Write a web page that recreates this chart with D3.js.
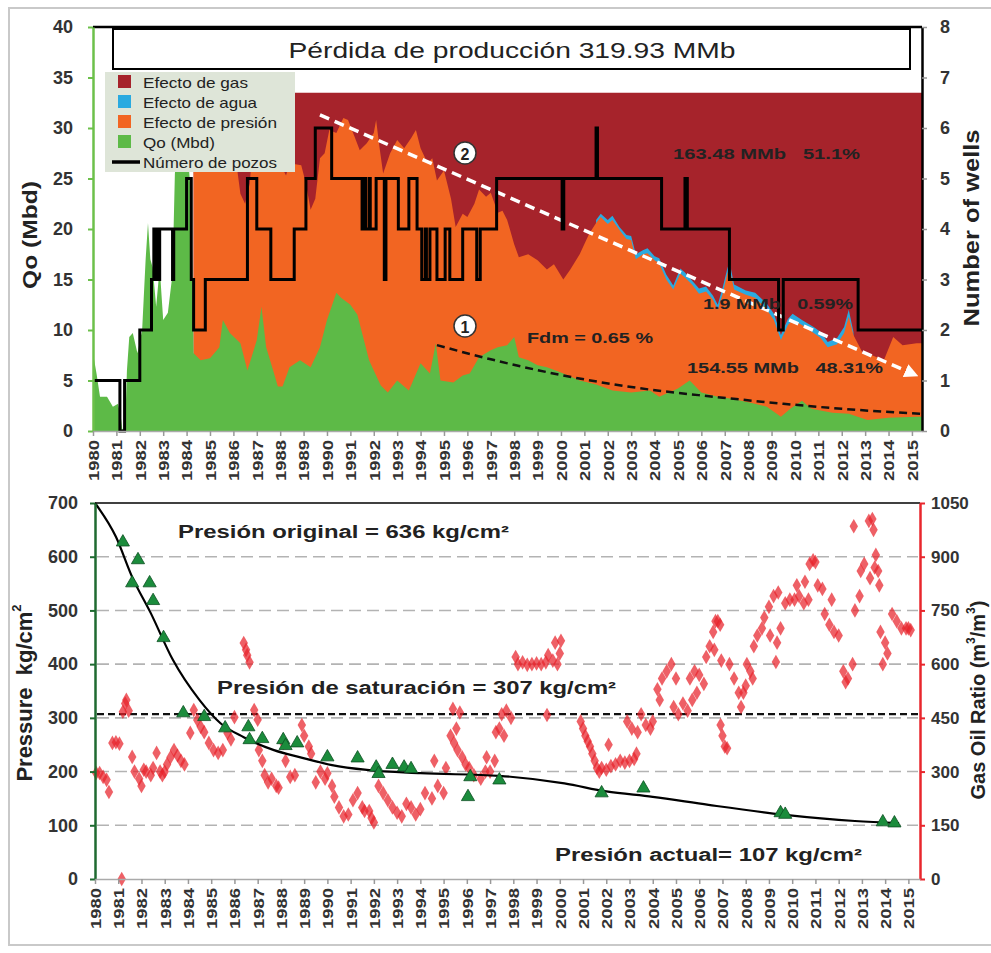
<!DOCTYPE html>
<html>
<head>
<meta charset="utf-8">
<script src="https://cdn.jsdelivr.net/npm/d3@7"></script>
<style>
  body { margin: 0; background: #fff; }
  svg { display: block; font-family: "Liberation Sans", Arial, sans-serif; }
  text { white-space: pre; }
</style>
</head>
<body>
<svg id="chart"></svg>
<script>
// ---------- data ----------
const years = d3.range(1980, 2016);

// Qo (Mbd), green area
const qoYears = [1980.0,1980.15,1980.3,1980.6,1980.85,1981.07,1981.2,1981.25,1981.37,1981.45,1981.55,1981.7,1981.9,1982.1,1982.25,1982.35,1982.45,1982.55,1982.7,1982.85,1983.0,1983.2,1983.4,1983.5,1983.6,1983.9,1984.1,1984.2,1984.3,1984.6,1985.0,1985.4,1985.55,1985.85,1986.3,1986.6,1987.0,1987.2,1987.4,1987.7,1987.9,1988.1,1988.4,1988.85,1989.3,1989.7,1990.0,1990.4,1990.6,1991.0,1991.3,1991.5,1991.8,1992.0,1992.3,1992.6,1993.0,1993.5,1994.0,1994.4,1994.65,1994.85,1995.4,1995.8,1996.1,1996.5,1997.0,1997.3,1997.7,1998.0,1998.2,1998.6,1999.0,1999.4,2000.0,2000.8,2001.5,2002.2,2003.0,2003.8,2004.2,2005.0,2005.5,2006.0,2006.7,2007.3,2008.1,2008.8,2009.4,2009.8,2010.3,2010.7,2011.6,2012.3,2013.1,2014.0,2015.2,2015.43];
const qoValues = [7.7,5.7,3.4,3.4,2.4,2.7,1.2,0.2,0,6,9.3,9.7,7.7,10,17,20.6,17,16.2,12.3,16.2,11,11.7,15.6,25.5,28,28,26,22.9,7.7,7,7.2,8.3,11,9.7,8.7,6,9,12.3,8.3,6,4.4,4.4,6.3,7,6.3,8.3,11,13.7,13.2,12.5,11.5,9.7,7,6,4.5,3.8,5,4,6.7,5.7,8.7,5,4.8,5.5,5.7,7.3,8,8.3,8.5,9.3,7.3,7,6.5,6.3,5.8,5,4.6,4,3.8,4,3.4,4.2,5,3.8,3.4,3.2,2.8,2.4,1.4,2.2,3,2.2,1.8,1.7,1.1,1.3,1.4,1.4];

// Qo + efecto de presión (top of the orange area)
const presionYears = [1984.3,1985.0,1985.8,1986.1,1986.3,1986.5,1986.7,1986.8,1987.3,1987.8,1988.1,1988.25,1988.4,1988.9,1989.1,1989.3,1989.5,1989.7,1989.9,1990.1,1990.4,1990.7,1990.9,1991.2,1991.4,1991.7,1992.0,1992.1,1992.25,1992.4,1992.7,1993.0,1993.3,1993.6,1993.8,1994.0,1994.3,1994.5,1994.7,1995.0,1995.3,1995.5,1995.8,1996.0,1996.3,1996.5,1996.8,1997.0,1997.3,1997.5,1997.7,1998.0,1998.2,1998.6,1999.0,1999.4,1999.7,2000.1,2000.4,2000.8,2001.2,2001.5,2001.7,2002.0,2002.2,2002.5,2002.8,2003.0,2003.2,2003.5,2003.7,2004.0,2004.2,2004.5,2004.8,2005.1,2005.3,2005.6,2005.9,2006.2,2006.5,2006.7,2006.9,2007.1,2007.2,2007.4,2007.9,2008.3,2008.8,2009.1,2009.4,2009.7,2009.9,2010.3,2010.8,2011.1,2011.4,2011.8,2012.1,2012.3,2012.5,2012.9,2013.3,2013.8,2014.2,2014.6,2015.2,2015.43];
const presionTop = [29,29,28.5,27,23.5,22.5,24.5,27.5,27,26.5,26,25.3,26.5,26.3,24.5,21.9,23,27,27.5,29.8,29.5,31,30.8,29,27.8,28.5,29.5,30.8,28,25.5,27.5,28.8,28,29,29.8,28,26.5,27,24.8,25.8,23,20.2,21.5,21.2,22.5,23.9,23.2,23.6,21.6,21.8,20.9,18.5,17.2,17.5,16.9,16,16.5,15,16,17.5,19.5,20.6,21.2,20.5,20.9,19.9,19,18.9,17,17.5,17.6,16.9,16.6,15,14,15.6,15.2,14.5,13.6,13.8,13,12,13.5,15.5,16.2,14,13.5,13.2,12,11,9,10.5,11,10.5,9.7,9.2,8.3,8.6,9.7,11.3,9.5,7.7,7.5,7,9.3,8.5,8.7,8.7];

// Qo + presión + efecto de agua (top of the thin blue band)
const aguaYears = [2001.5,2001.7,2002.0,2002.2,2002.5,2002.8,2003.0,2003.2,2003.5,2003.7,2004.0,2004.2,2004.5,2004.8,2005.1,2005.3,2005.6,2005.9,2006.2,2006.5,2006.7,2006.9,2007.1,2007.2,2007.4,2007.9,2008.3,2008.8,2009.1,2009.4,2009.7,2009.9,2010.3,2010.8,2011.1,2011.4,2011.8,2012.1,2012.3,2012.5];
const aguaTop = [20.9,21.5,20.9,21.3,20.2,19.4,19.3,17.5,17.9,18.1,17.3,17.1,15.5,14.4,16.1,15.7,14.9,14.1,14.3,13.4,12.5,14.1,16.0,16.8,14.5,13.9,13.7,12.6,11.6,9.5,11.1,11.6,11.0,10.3,9.8,8.8,9.2,10.3,12.0,9.8];

// potential (top of efecto de gas)
const gasYears = [1984.3, 2015.43];
const gasTop = [33.5, 33.5];

// Número de pozos (step after)
const pozosYears = [1980.0,1981.15,1981.35,1982.0,1982.5,1982.6,1982.65,1982.75,1982.8,1982.85,1983.4,1983.45,1984.0,1984.2,1984.3,1984.8,1986.6,1987.0,1987.6,1988.6,1989.1,1989.5,1990.2,1991.5,1991.6,1991.65,1991.8,1991.85,1992.1,1992.45,1992.52,1993.05,1993.5,1993.85,1994.05,1994.2,1994.25,1994.4,1994.7,1995.05,1995.25,1995.8,1996.4,1996.55,1997.25,2000.05,2000.12,2001.5,2001.56,2004.3,2005.3,2005.4,2007.2,2009.3,2009.5,2012.7,2015.43];
const pozosCount = [1,0,1,2,3,4,3,4,3,4,3,4,5,3,2,3,5,4,3,4,5,6,5,4,5,4,5,4,5,3,5,4,5,4,3,4,3,4,3,4,3,4,3,4,5,4,5,6,5,4,5,4,3,2,3,2,2];

// declinación Fdm = 0.65 % (line 1) and trend line 2
const fdmYears = [1994.7,1997.0,2000.1,2003.8,2006.5,2009.5,2012.0,2015.4];
const fdmValues = [8.5,7.1,5.5,4.1,3.4,2.7,2.2,1.7];
const trendYears = [1989.7, 2015.0];
const trendValues = [31.3, 5.7];

// presión medida (triangles), ajuste (line), RGA (diamonds)
const presYears = [1981.2,1981.6,1981.85,1982.35,1982.5,1982.95,1983.8,1984.7,1985.6,1986.6,1986.65,1987.2,1988.1,1988.2,1988.7,1990.0,1991.3,1992.1,1992.2,1992.8,1993.3,1993.6,1996.05,1996.15,1997.4,2001.8,2003.6,2009.5,2009.7,2013.9,2014.4];
const presValues = [627,551,594,551,518,449,309,302,281,283,259,261,259,248,253,227,225,208,196,213,208,205,153,190,184,160,169,123,120,106,104];
const ajusteYears = [1980,1980.9,1981.6,1982.4,1983.35,1984.5,1985.4,1986.4,1987.7,1988.8,1990.2,1991.7,1994,1997.4,2000.2,2002,2004,2006.4,2009.6,2012.7,2014.6];
const ajusteValues = [700,637,562,495,408,333,290,264,240,227,212,203,197,192,178,163,153,138,120,108,104];

const gorYears = [1980.05,1980.2,1980.35,1980.5,1980.6,1980.75,1980.9,1981.05,1981.15,1981.2,1981.3,1981.35,1981.45,1981.6,1981.7,1981.9,1982.0,1982.1,1982.2,1982.4,1982.5,1982.65,1982.8,1982.9,1983.0,1983.1,1983.25,1983.4,1983.55,1983.7,1983.85,1984.1,1984.25,1984.4,1984.55,1984.7,1984.9,1985.1,1985.3,1985.5,1985.7,1985.85,1986.0,1986.4,1986.5,1986.55,1986.65,1986.85,1987.0,1987.05,1987.2,1987.3,1987.45,1987.6,1987.8,1987.9,1988.1,1988.2,1988.4,1988.6,1988.9,1989.0,1989.2,1989.3,1989.5,1989.7,1989.9,1990.0,1990.2,1990.3,1990.5,1990.7,1990.9,1991.1,1991.3,1991.5,1991.6,1991.8,1991.9,1992.0,1992.2,1992.4,1992.6,1992.8,1993.0,1993.2,1993.4,1993.6,1993.8,1994.0,1994.2,1994.5,1994.6,1994.75,1995.0,1995.1,1995.3,1995.4,1995.45,1995.55,1995.6,1995.7,1995.8,1995.95,1996.1,1996.3,1996.6,1996.8,1996.85,1997.0,1997.2,1997.25,1997.4,1997.5,1997.6,1997.7,1997.9,1998.1,1998.2,1998.4,1998.6,1998.8,1999.0,1999.2,1999.4,1999.45,1999.5,1999.7,1999.8,1999.9,2000.0,2000.05,2000.9,2001.0,2001.1,2001.2,2001.3,2001.4,2001.5,2001.6,2001.7,2001.8,2002.0,2002.1,2002.2,2002.4,2002.6,2002.8,2002.9,2003.0,2003.1,2003.2,2003.3,2003.35,2003.5,2003.7,2003.9,2004.0,2004.2,2004.3,2004.4,2004.6,2004.8,2004.9,2005.0,2005.1,2005.3,2005.5,2005.6,2005.7,2005.8,2005.9,2006.0,2006.2,2006.3,2006.45,2006.6,2006.65,2006.7,2006.8,2006.9,2006.92,2006.95,2007.0,2007.1,2007.2,2007.3,2007.5,2007.7,2007.8,2007.9,2008.0,2008.05,2008.2,2008.3,2008.35,2008.5,2008.7,2008.8,2009.0,2009.05,2009.2,2009.3,2009.35,2009.4,2009.5,2009.7,2009.9,2010.1,2010.2,2010.3,2010.5,2010.55,2010.7,2010.75,2010.9,2011.0,2011.1,2011.3,2011.4,2011.6,2011.7,2011.8,2012.0,2012.2,2012.3,2012.4,2012.6,2012.65,2012.7,2012.9,2012.95,2013.1,2013.3,2013.35,2013.45,2013.5,2013.55,2013.6,2013.7,2013.75,2013.8,2013.9,2014.0,2014.1,2014.3,2014.5,2014.7,2014.9,2015.0,2015.1];
const gorValues = [296,296,285,277,243,380,382,378,0,467,490,500,470,341,300,280,260,305,300,290,310,352,300,290,300,320,340,360,345,330,320,408,472,444,425,410,380,360,352,360,408,390,452,659,640,625,605,472,445,360,330,290,270,280,260,255,380,330,285,290,430,400,370,350,270,300,280,295,260,230,200,175,180,220,240,200,190,190,170,158,260,240,220,200,185,175,210,200,180,195,240,225,330,260,240,310,400,475,380,420,360,465,340,320,310,290,280,300,340,300,330,410,420,460,400,470,450,620,600,605,598,600,602,600,605,458,625,610,660,600,630,665,440,420,400,385,370,350,330,310,300,310,305,375,315,320,330,325,440,330,420,335,350,410,460,430,420,440,530,500,560,580,600,480,560,460,490,470,560,500,580,520,570,545,620,650,690,640,720,720,710,430,610,400,370,365,600,560,520,480,520,540,600,580,560,650,680,700,730,760,680,790,606,660,800,700,770,780,780,820,790,770,830,780,880,890,885,820,810,740,710,780,690,680,580,550,560,600,985,750,790,860,880,1000,840,1005,975,870,905,860,820,690,600,660,630,740,720,700,700,700,695];

// ---------- setup ----------
const width = 991, height = 953;
const svg = d3.select("#chart").attr("width", width).attr("height", height);

const C = {
  gas: "#a6232b", agua: "#2aaae0", presion: "#f26522", qo: "#5dba47",
  legendBg: "#dee5d8", txt: "#222"
};

// text stretched to a given length
function addText(g, x, y, txt, size, weight, len, anchor) {
  const t = g.append("text")
    .attr("x", x).attr("y", y)
    .attr("font-size", size)
    .attr("font-weight", weight)
    .attr("fill", C.txt)
    .attr("text-anchor", anchor || "start")
    .attr("dominant-baseline", "central")
    .text(txt);
  if (len) t.attr("textLength", len).attr("lengthAdjust", "spacingAndGlyphs");
  return t;
}

// outer frame
svg.append("rect")
  .attr("x", 9).attr("y", 8).attr("width", 1000).attr("height", 937)
  .attr("fill", "none").attr("stroke", "#c9c9c9").attr("stroke-width", 2);

// ================= TOP CHART =================
const xTop = d3.scaleLinear().domain([1980, 2015.43]).range([93, 922]);
const yQo = d3.scaleLinear().domain([0, 40]).range([431, 27]);
const yPozos = d3.scaleLinear().domain([0, 8]).range([431, 27]);

const gTop = svg.append("g");

const area = d3.area()
  .x(d => xTop(d[0]))
  .y0(yQo(0))
  .y1(d => yQo(d[1]));

gTop.append("path").datum(d3.zip(gasYears, gasTop)).attr("d", area).attr("fill", C.gas);
gTop.append("path").datum(d3.zip(aguaYears, aguaTop)).attr("d", area).attr("fill", C.agua);
gTop.append("path").datum(d3.zip(presionYears, presionTop)).attr("d", area).attr("fill", C.presion);
gTop.append("path").datum(d3.zip(qoYears, qoValues)).attr("d", area).attr("fill", C.qo);

// trend line 2 (white dashed with arrow)
svg.append("defs").append("marker")
  .attr("id", "arrowW").attr("viewBox", "0 0 10 10")
  .attr("refX", 5).attr("refY", 5)
  .attr("markerWidth", 4).attr("markerHeight", 4)
  .attr("orient", "auto")
  .append("path").attr("d", "M0,0L10,5L0,10z").attr("fill", "#fff");

const lineQo = d3.line().x(d => xTop(d[0])).y(d => yQo(d[1]));
gTop.append("path").datum(d3.zip(trendYears, trendValues))
  .attr("d", lineQo)
  .attr("fill", "none").attr("stroke", "#fff").attr("stroke-width", 3.5)
  .attr("stroke-dasharray", "10,6")
  .attr("marker-end", "url(#arrowW)");

// number of wells
gTop.append("path").datum(d3.zip(pozosYears, pozosCount))
  .attr("d", d3.line().curve(d3.curveStepAfter).x(d => xTop(d[0])).y(d => yPozos(d[1])))
  .attr("fill", "none").attr("stroke", "#000").attr("stroke-width", 3)
  .attr("stroke-linejoin", "miter");

// Fdm decline
gTop.append("path").datum(d3.zip(fdmYears, fdmValues))
  .attr("d", d3.line().curve(d3.curveMonotoneX).x(d => xTop(d[0])).y(d => yQo(d[1])))
  .attr("fill", "none").attr("stroke", "#111").attr("stroke-width", 2.5)
  .attr("stroke-dasharray", "8,5");

// numbered circles
[["2", 465, 153], ["1", 465, 326]].forEach(([n, x, y]) => {
  gTop.append("circle").attr("cx", x).attr("cy", y).attr("r", 11)
    .attr("fill", "#fff").attr("stroke", "#333").attr("stroke-width", 1.5);
  addText(gTop, x, y + 1, n, 16, "bold", null, "middle");
});

// annotations
addText(gTop, 527, 337, "Fdm = 0.65 %", 15, "bold", 126);
addText(gTop, 673, 153, "163.48 MMb   51.1%", 15, "bold", 187);
addText(gTop, 703, 303, "1.9 MMb   0.59%", 15, "bold", 150);
addText(gTop, 687, 367, "154.55 MMb   48.31%", 15, "bold", 196);

// top border
gTop.append("line").attr("x1", 93).attr("x2", 922).attr("y1", 27).attr("y2", 27)
  .attr("stroke", "#000").attr("stroke-width", 2.5);

// title box
gTop.append("rect").attr("x", 113).attr("y", 29).attr("width", 797).attr("height", 40)
  .attr("fill", "#fff").attr("stroke", "#000").attr("stroke-width", 2);
addText(gTop, 512, 50, "Pérdida de producción 319.93 MMb", 22, "normal", 447, "middle");

// legend
const legend = gTop.append("g");
legend.append("rect").attr("x", 105).attr("y", 72).attr("width", 190).attr("height", 100)
  .attr("fill", C.legendBg);
const legItems = [
  ["Efecto de gas", C.gas, 105],
  ["Efecto de agua", C.agua, 114],
  ["Efecto de presión", C.presion, 134],
  ["Qo (Mbd)", C.qo, 72],
  ["Número de pozos", null, 134]
];
legItems.forEach(([name, col, len], i) => {
  const cy = 82 + i * 20;
  if (col) {
    legend.append("rect").attr("x", 118).attr("y", cy - 7).attr("width", 13).attr("height", 13).attr("fill", col);
  } else {
    legend.append("line").attr("x1", 112).attr("x2", 140).attr("y1", cy).attr("y2", cy)
      .attr("stroke", "#000").attr("stroke-width", 3.5);
  }
  addText(legend, 143, cy, name, 15, "normal", len);
});

// axes (top)
const axTopL = gTop.append("g").attr("transform", "translate(93,0)")
  .call(d3.axisLeft(yQo).tickValues(d3.range(0, 41, 5)).tickSize(5).tickSizeOuter(0).tickPadding(15));
axTopL.select(".domain").attr("stroke", "#6cc04a").attr("stroke-width", 2.5);
axTopL.selectAll(".tick line").attr("stroke", "#6cc04a").attr("stroke-width", 2);

const axTopR = gTop.append("g").attr("transform", "translate(922,0)")
  .call(d3.axisRight(yPozos).ticks(8).tickSize(5).tickSizeOuter(0).tickPadding(13));
axTopR.select(".domain").attr("stroke", "#000").attr("stroke-width", 2.5);
axTopR.selectAll(".tick line").attr("stroke", "#999").attr("stroke-width", 1.5);

const axTopB = gTop.append("g").attr("transform", "translate(0,431)")
  .call(d3.axisBottom(xTop).tickValues(years).tickFormat(d3.format("d")).tickSize(5).tickSizeOuter(0));
axTopB.select(".domain").attr("stroke", "#aaa").attr("stroke-width", 1.5);
axTopB.selectAll(".tick line").attr("stroke", "#999").attr("stroke-width", 1.5);

[axTopL, axTopR].forEach(a => a.selectAll("text")
  .attr("font-size", 18).attr("font-weight", "bold").attr("fill", "#333")
  .attr("font-family", "Liberation Sans, Arial, sans-serif"));

function rotateYears(a) {
  a.selectAll("text")
    .attr("font-size", 15).attr("font-weight", "bold").attr("fill", "#333")
    .attr("font-family", "Liberation Sans, Arial, sans-serif")
    .attr("transform", "rotate(-90)")
    .attr("x", -9).attr("y", 0).attr("dy", "0.36em")
    .attr("text-anchor", "end")
    .attr("textLength", 41).attr("lengthAdjust", "spacingAndGlyphs");
}
rotateYears(axTopB);

// axis titles (top)
addText(svg, 0, 0, "Qo (Mbd)", 20, "bold", 108, "middle")
  .attr("transform", "translate(30,235) rotate(-90)");
addText(svg, 0, 0, "Number of wells", 22, "bold", 197, "middle")
  .attr("transform", "translate(971,228) rotate(-90)");

// ================= BOTTOM CHART =================
const xBot = d3.scaleLinear().domain([1980, 2015.5]).range([95, 920]);
const yPres = d3.scaleLinear().domain([0, 700]).range([879, 503]);
const yGor = d3.scaleLinear().domain([0, 1050]).range([879, 503]);

const gBot = svg.append("g");

// gridlines
gBot.append("g").selectAll("line")
  .data([100, 200, 300, 400, 500, 600])
  .join("line")
  .attr("x1", 97).attr("x2", 918)
  .attr("y1", d => yPres(d)).attr("y2", d => yPres(d))
  .attr("stroke", "#b3b3b3").attr("stroke-width", 1.6)
  .attr("stroke-dasharray", "12,6");

// top border
gBot.append("line").attr("x1", 95).attr("x2", 920).attr("y1", 503).attr("y2", 503)
  .attr("stroke", "#000").attr("stroke-width", 1.5);

// saturation pressure line
gBot.append("line").attr("x1", 97).attr("x2", 918)
  .attr("y1", yPres(307)).attr("y2", yPres(307))
  .attr("stroke", "#111").attr("stroke-width", 2.2)
  .attr("stroke-dasharray", "7,4");

// GOR diamonds
gBot.append("g").selectAll("path")
  .data(d3.zip(gorYears, gorValues))
  .join("path")
  .attr("transform", d => `translate(${xBot(d[0])},${yGor(d[1])})`)
  .attr("d", d3.symbol(d3.symbolDiamond, 62))
  .attr("fill", "#e8232b").attr("fill-opacity", 0.72);

// fitted pressure curve
gBot.append("path").datum(d3.zip(ajusteYears, ajusteValues))
  .attr("d", d3.line().curve(d3.curveMonotoneX).x(d => xBot(d[0])).y(d => yPres(d[1])))
  .attr("fill", "none").attr("stroke", "#000").attr("stroke-width", 2.2);

// measured pressure triangles
gBot.append("g").selectAll("path")
  .data(d3.zip(presYears, presValues))
  .join("path")
  .attr("transform", d => `translate(${xBot(d[0])},${yPres(d[1])})`)
  .attr("d", d3.symbol(d3.symbolTriangle, 75))
  .attr("fill", "#1b8c3c").attr("stroke", "#0d4f22").attr("stroke-width", 0.8);

// annotations
addText(gBot, 178, 532, "Presión original = 636 kg/cm²", 18, "bold", 331);
addText(gBot, 217, 688, "Presión de saturación = 307 kg/cm²", 18, "bold", 399);
addText(gBot, 555, 855, "Presión actual= 107 kg/cm²", 18, "bold", 307);

// axes (bottom)
const axBotL = gBot.append("g").attr("transform", "translate(95,0)")
  .call(d3.axisLeft(yPres).tickValues(d3.range(0, 701, 100)).tickSize(5).tickSizeOuter(0).tickPadding(12));
axBotL.select(".domain").attr("stroke", "#1f6a30").attr("stroke-width", 2.5);
axBotL.selectAll(".tick line").attr("stroke", "#1f6a30").attr("stroke-width", 2);

const axBotR = gBot.append("g").attr("transform", "translate(920,0)")
  .call(d3.axisRight(yGor).tickValues(d3.range(0, 1051, 150)).tickFormat(d3.format("d"))
    .tickSize(5).tickSizeOuter(0).tickPadding(6));
axBotR.select(".domain").attr("stroke", "#e8262c").attr("stroke-width", 2.5);
axBotR.selectAll(".tick line").attr("stroke", "#e8262c").attr("stroke-width", 2);

const axBotB = gBot.append("g").attr("transform", "translate(0,879)")
  .call(d3.axisBottom(xBot).tickValues(years).tickFormat(d3.format("d")).tickSize(5).tickSizeOuter(0));
axBotB.select(".domain").attr("stroke", "#aaa").attr("stroke-width", 1.5);
axBotB.selectAll(".tick line").attr("stroke", "#999").attr("stroke-width", 1.5);
rotateYears(axBotB);

[axBotL, axBotR].forEach(a => a.selectAll("text")
  .attr("font-size", 18).attr("font-weight", "bold").attr("fill", "#333")
  .attr("font-family", "Liberation Sans, Arial, sans-serif"));
axBotR.selectAll("text").attr("font-size", 17);

// axis titles (bottom)
const pt = addText(svg, 0, 0, "", 22, "bold", null, "middle")
  .attr("transform", "translate(24,693) rotate(-90)");
pt.append("tspan").text("Pressure  kg/cm");
pt.append("tspan").text("2").attr("font-size", 13).attr("dy", -8);

const gt = addText(svg, 0, 0, "", 20, "bold", null, "middle")
  .attr("transform", "translate(978,700) rotate(-90)");
gt.append("tspan").text("Gas Oil Ratio (m");
gt.append("tspan").text("3").attr("font-size", 12).attr("dy", -7);
gt.append("tspan").text("/m").attr("dy", 7);
gt.append("tspan").text("3").attr("font-size", 12).attr("dy", -7);
gt.append("tspan").text(")").attr("dy", 7);
</script>
</body>
</html>
